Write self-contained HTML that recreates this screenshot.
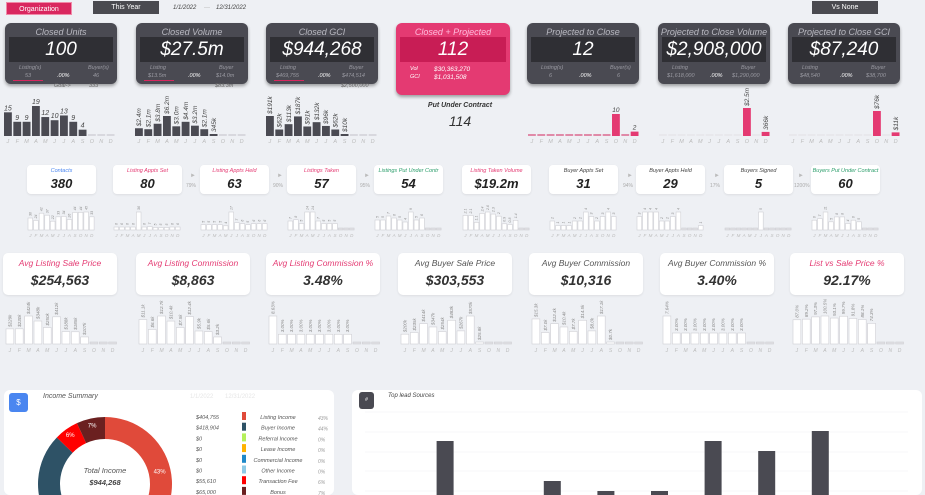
<!DOCTYPE html>
<html style="overflow:hidden;width:925px;height:495px"><head><meta charset="utf-8">
<style>
*{box-sizing:border-box;margin:0;padding:0}
body{width:925px;height:495px;background:#eef0f4;font-family:"Liberation Sans",sans-serif;position:relative;overflow:hidden}
.abs{position:absolute}
.btn{position:absolute;height:13px;font-size:7px;color:#fff;text-align:center;line-height:13px}
.dc{position:absolute;top:23px;width:112px;height:61px;background:#4a4a52;border-radius:6px;box-shadow:0 2px 3px rgba(0,0,0,.35)}
.dc .t{position:absolute;top:4px;width:100%;text-align:center;font-size:9px;font-style:italic;color:#b8b8c0;white-space:nowrap}
.dc .v{position:absolute;left:4px;right:4px;top:14px;height:25px;background:#2f2f34;color:#fff;font-style:italic;font-size:19px;text-align:center;line-height:25px;white-space:nowrap}
.dc .s{position:absolute;font-size:5.5px;font-style:italic;color:#9a9aa2}
.wc{position:absolute;background:#fff;border-radius:4px;box-shadow:0 1px 2px rgba(0,0,0,.08)}
.wc .t{position:absolute;top:3px;width:100%;text-align:center;font-size:5.5px;font-style:italic;white-space:nowrap}
.wc .v{position:absolute;top:11px;width:100%;text-align:center;font-size:13px;font-weight:bold;font-style:italic;color:#222}
.bc{position:absolute;top:253px;width:114px;height:42px;background:#fff;border-radius:5px;box-shadow:0 1px 2px rgba(0,0,0,.08)}
.bc .t{position:absolute;top:5px;width:100%;text-align:center;font-size:8.5px;font-style:italic;white-space:nowrap}
.bc .v{position:absolute;top:19px;width:100%;text-align:center;font-size:14px;font-weight:bold;font-style:italic;color:#333}
.pct{position:absolute;font-size:5px;color:#aaa}
.arr{position:absolute;font-size:6px;color:#bbb}
.panel{position:absolute;background:#fff;border-radius:6px}
</style></head><body>
<div class="btn" style="left:6px;top:2px;width:66px;background:#d9275f;border:1px solid #f08aa8">Organization</div>
<div class="btn" style="left:93px;top:1px;width:66px;background:#4a4a50">This Year</div>
<div class="abs" style="left:173px;top:5px;font-size:6px;font-style:italic;color:#444">1/1/2022</div>
<div class="abs" style="left:204px;top:5px;font-size:6px;color:#bbb">—</div>
<div class="abs" style="left:216px;top:5px;font-size:6px;font-style:italic;color:#444">12/31/2022</div>
<div class="btn" style="left:812px;top:1px;width:66px;background:#4a4a50">Vs None</div>

<div class="dc" style="left:5px"><div class="t">Closed Units</div><div class="v">100</div>
<div class="s" style="left:14px;top:42px">Listing(s)</div><div class="s" style="left:83px;top:42px">Buyer(s)</div><div class="s" style="left:20px;top:50px">53</div><div class="s" style="left:52px;top:50px;color:#fff">.00%</div><div class="s" style="left:88px;top:50px">46</div><div class="abs" style="left:8px;top:57px;width:30px;height:1px;background:#d9275f"></div></div>
<div class="dc" style="left:136px"><div class="t">Closed Volume</div><div class="v">$27.5m</div>
<div class="s" style="left:14px;top:42px">Listing</div><div class="s" style="left:83px;top:42px">Buyer</div><div class="s" style="left:12px;top:50px">$13.5m</div><div class="s" style="left:52px;top:50px;color:#fff">.00%</div><div class="s" style="left:80px;top:50px">$14.0m</div><div class="abs" style="left:8px;top:57px;width:30px;height:1px;background:#d9275f"></div></div>
<div class="dc" style="left:266px"><div class="t">Closed GCI</div><div class="v">$944,268</div>
<div class="s" style="left:14px;top:42px">Listing</div><div class="s" style="left:83px;top:42px">Buyer</div><div class="s" style="left:10px;top:50px">$469,755</div><div class="s" style="left:52px;top:50px;color:#fff">.00%</div><div class="s" style="left:76px;top:50px">$474,514</div><div class="abs" style="left:8px;top:57px;width:30px;height:1px;background:#d9275f"></div></div>
<div class="dc" style="left:396px;width:114px;height:72px;background:#e43a72"><div class="t" style="color:#fbd">Closed + Projected</div><div class="v" style="background:#c81d55">112</div>
<div class="s" style="left:14px;top:43px;color:#fff">Vol</div><div class="s" style="left:38px;top:43px;color:#fff;font-size:6.5px">$30,363,270</div><div class="s" style="left:14px;top:51px;color:#fff">GCI</div><div class="s" style="left:38px;top:51px;color:#fff;font-size:6.5px">$1,031,508</div></div>
<div class="dc" style="left:527px"><div class="t">Projected to Close</div><div class="v">12</div>
<div class="s" style="left:14px;top:42px">Listing(s)</div><div class="s" style="left:83px;top:42px">Buyer(s)</div><div class="s" style="left:22px;top:50px">6</div><div class="s" style="left:52px;top:50px;color:#fff">.00%</div><div class="s" style="left:90px;top:50px">6</div></div>
<div class="dc" style="left:658px"><div class="t">Projected to Close Volume</div><div class="v">$2,908,000</div>
<div class="s" style="left:14px;top:42px">Listing</div><div class="s" style="left:83px;top:42px">Buyer</div><div class="s" style="left:9px;top:50px">$1,618,000</div><div class="s" style="left:52px;top:50px;color:#fff">.00%</div><div class="s" style="left:74px;top:50px">$1,290,000</div></div>
<div class="dc" style="left:788px"><div class="t">Projected to Close GCI</div><div class="v">$87,240</div>
<div class="s" style="left:14px;top:42px">Listing</div><div class="s" style="left:83px;top:42px">Buyer</div><div class="s" style="left:12px;top:50px">$48,540</div><div class="s" style="left:52px;top:50px;color:#fff">.00%</div><div class="s" style="left:78px;top:50px">$38,700</div></div>
<div class="abs" style="left:54px;top:83px;font-size:5.5px;font-style:italic;color:#666">Goal-&gt;</div>
<div class="abs" style="left:89px;top:83px;font-size:5.5px;font-style:italic;color:#666">333</div>
<div class="abs" style="left:215px;top:83px;font-size:5.5px;font-style:italic;color:#666">$83.3m</div>
<div class="abs" style="left:341px;top:83px;font-size:5.5px;font-style:italic;color:#666">$2,500,000</div>
<div class="abs" style="left:400px;top:102px;width:120px;text-align:center;font-size:7px;font-weight:bold;font-style:italic;color:#333">Put Under Contract</div>
<div class="abs" style="left:400px;top:113px;width:120px;text-align:center;font-size:14px;font-style:italic;color:#333">114</div>

<div id="row2"></div>
<div id="row3"></div>

<div class="panel" style="left:4px;top:390px;width:330px;height:105px"></div>
<div class="abs" style="left:9px;top:393px;width:19px;height:19px;background:#4a86f0;border-radius:3px;color:#fff;font-size:8px;text-align:center;line-height:19px">$</div>
<div class="abs" style="left:43px;top:393px;font-size:7px;font-style:italic;color:#555">Income Summary</div>
<div class="abs" style="left:190px;top:394px;font-size:6px;color:#e6e6e6">1/1/2022 &nbsp; &nbsp; &nbsp; 12/31/2022</div>
<div class="panel" style="left:352px;top:390px;width:570px;height:105px"></div>
<div class="abs" style="left:359px;top:392px;width:15px;height:17px;background:#4a4a52;border-radius:3px;color:#fff;font-size:5px;text-align:center;line-height:17px">#</div>
<div class="abs" style="left:388px;top:393px;font-size:6px;font-style:italic;color:#444">Top lead Sources</div>

<svg id="chart" class="abs" style="left:0;top:0;overflow:hidden" width="925" height="495"></svg>

<script>
const months=["J","F","M","A","M","J","J","A","S","O","N","D"];
const closedUnits=[15,9,9,19,12,10,13,9,4,0,0,0];
const closedUnitsLbl=["15","9","9","19","12","10","13","9","4","","",""];
const closedVol=[2.4,2.1,3.8,6.2,3.0,4.4,3.2,2.1,0.345,0,0,0];
const closedVolLbl=["$2.4m","$2.1m","$3.8m","$6.2m","$3.0m","$4.4m","$3.2m","$2.1m","345k","","",""];
const closedGci=[191,62,113,187,91,132,96,62,10,0,0,0];
const closedGciLbl=["$191k","$62k","$113k","$187k","$91k","$132k","$96k","$62k","$10k","","",""];
const projUnits=[0,0,0,0,0,0,0,0,0,10,0,2];
const projUnitsLbl=["","","","","","","","","","10","","2"];
const projVol=[0,0,0,0,0,0,0,0,0,2.5,0,0.366];
const projVolLbl=["","","","","","","","","","$2.5m","","366k"];
const projGci=[0,0,0,0,0,0,0,0,0,76,0,11];
const projGciLbl=["","","","","","","","","","$76k","","$11k"];
const contacts=[30,24,42,37,22,33,34,26,44,44,45,33];
const listApptsSet=[6,6,6,6,36,6,7,5,5,5,6,6];
const listApptsHeld=[5,5,5,5,4,17,7,6,5,6,6,6];
const listingsTaken=[7,8,5,14,14,7,5,5,5,0,0,0];
const listingsPuc=[5,5,7,6,5,4,9,5,6,0,0,0];
const listTakenVol=[2.1,2.1,1.1,2.4,2.6,2.3,2.0,0.9,0.8,1.4,0,0];
const buyerApptsSet=[2,1,1,1,2,2,4,3,2,3,4,3];
const buyerApptsHeld=[3,4,4,4,2,2,3,4,0,0,0,1];
const buyersSigned=[0,0,0,0,0,0,5,0,0,0,0,0];
const buyersPuc=[6,7,11,5,8,8,4,6,5,0,0,0];
const avgListPrice=[229,230,424,348,250,412,188,185,107,0,0,0];
const avgListPriceLbl=["$229k","$230k","$424k","$348k","$250k","$412k","$188k","$185k","$107k","","",""];
const avgListComm=[11.1,6.6,12.7,10.4,7.5,12.4,5.9,5.6,3.2,0,0,0];
const avgListCommLbl=["$11.1k","$6.6k","$12.7k","$10.4k","$7.5k","$12.4k","$5.9k","$5.6k","$3.2k","","",""];
const avgListPct=[8.63,3,3,3,3,3,3,3,3,0,0,0];
const avgListPctLbl=["8.63%","3.00%","3.00%","3.00%","3.00%","3.00%","3.00%","3.00%","3.00%","","",""];
const avgBuyPrice=[200,235,414,347,254,483,267,570,25.8,0,0,0];
const avgBuyPriceLbl=["$200k","$235k","$414k","$347k","$254k","$483k","$267k","$570k","$25.8k","","",""];
const avgBuyComm=[15.3,7.0,12.4,10.4,7.7,14.5,8.0,17.1,0.7,0,0,0];
const avgBuyCommLbl=["$15.3k","$7.0k","$12.4k","$10.4k","$7.7k","$14.5k","$8.0k","$17.1k","$0.7k","","",""];
const avgBuyPct=[7.64,3,3,3,3,3,3,3,3,0,0,0];
const avgBuyPctLbl=["7.64%","3.00%","3.00%","3.00%","3.00%","3.00%","3.00%","3.00%","3.00%","","",""];
const listVsSale=[87.0,89.2,97.3,100.5,93.1,99.7,91.8,88.1,74.3,0,0,0];
const listVsSaleLbl=["87.0%","89.2%","97.3%","100.5%","93.1%","99.7%","91.8%","88.1%","74.3%","","",""];
const incomeNames=["Listing Income","Buyer Income","Referral Income","Lease Income","Commercial Income","Other Income","Transaction Fee","Bonus"];
const incomeValues=[404755,418904,0,0,0,0,55610,65000];
const incomeLabels=["$404,755","$418,904","$0","$0","$0","$0","$55,610","$65,000"];
const incomePct=["43%","44%","0%","0%","0%","0%","6%","7%"];
const incomeColors=["#e04a3a","#2e5266","#b5f05a","#ffb300","#1e88c8","#8ecae6","#ff0000","#6b2020"];
const leadSources=["Source 1","Source 2","Source 3","Source 4","Source 5","Source 6","Source 7","Source 8","Source 9"];
const leadCounts=[8,22,8,14,12,12,22,20,24];

const NS="http://www.w3.org/2000/svg";
const svg=document.getElementById("chart");
function el(tag,attrs,parent){const e=document.createElementNS(NS,tag);for(const k in attrs)e.setAttribute(k,attrs[k]);(parent||svg).appendChild(e);return e;}

function mini(name,x0,w,base,maxH,vals,lbls,opt){
  const g=el("g",{});
  
  
  const max=Math.max(...vals)||1;
  const step=w/12, bw=step*0.84;
  vals.forEach((v,i)=>{
    const h=v>0?Math.max(2,v/max*maxH):opt.stub;
    const bx=x0+i*step;
    const r=el("rect",{x:bx,y:base-h,width:bw,height:h,fill:v>0?opt.fill:opt.stubFill,stroke:opt.stroke||"none","stroke-width":0.6},g);
    
    
    if(lbls&&lbls[i]){
      if(opt.rot){
        el("text",{x:0,y:0,transform:`translate(${bx+bw/2+opt.fs*0.35},${base-h-2}) rotate(-90)`,"font-size":opt.fs,"font-style":"italic",fill:opt.lc,"font-family":"Liberation Sans"},g).textContent=lbls[i];
      }else{
        el("text",{x:bx+bw/2,y:base-h-2,"text-anchor":"middle","font-size":opt.fs,"font-style":"italic",fill:opt.lc,"font-family":"Liberation Sans"},g).textContent=lbls[i];
      }
    }
    el("text",{x:bx+bw/2,y:base+opt.ly,"text-anchor":"middle","font-size":opt.mfs,"font-style":"italic",fill:"#bbb","font-family":"Liberation Sans"},g).textContent=months[i];
  });
}
const dark={fill:"#4a4a52",stub:2,stubFill:"#d8d8de",fs:7,lc:"#444",ly:7,mfs:5.5};
mini("closed-units-chart",4,112,136,30,closedUnits,closedUnitsLbl,dark);
mini("closed-volume-chart",135,112,136,20,closedVol,closedVolLbl,Object.assign({},dark,{rot:true,fs:6.5}));
mini("closed-gci-chart",266,112,136,20,closedGci,closedGciLbl,Object.assign({},dark,{rot:true,fs:6.5}));
const pink={fill:"#e43a72",stub:2,stubFill:"#e08aa8",fs:6.5,lc:"#444",ly:7,mfs:5.5};
mini("projected-units-chart",528,112,136,22,projUnits,projUnitsLbl,pink);
mini("projected-volume-chart",659,112,136,28,projVol,projVolLbl,Object.assign({},pink,{rot:true,stubFill:"#e8e8ec"}));
mini("projected-gci-chart",789,112,136,25,projGci,projGciLbl,Object.assign({},pink,{rot:true,stubFill:"#e8e8ec"}));
const r2=[["contacts-card","Contacts","380","#4a86f0",27],["listing-appts-set-card","Listing Appts Set","80","#e43a72",113],["listing-appts-held-card","Listing Appts Held","63","#e43a72",200],["listings-taken-card","Listings Taken","57","#e43a72",287],["listings-puc-card","Listings Put Under Contr","54","#2a9d6a",374],["listing-taken-volume-card","Listing Taken Volume","$19.2m","#e43a72",462],["buyer-appts-set-card","Buyer Appts Set","31","#444",549],["buyer-appts-held-card","Buyer Appts Held","29","#444",636],["buyers-signed-card","Buyers Signed","5","#444",724],["buyers-puc-card","Buyers Put Under Contract","60","#2a9d6a",811]];
const row2=document.getElementById("row2");
r2.forEach(c=>{const d=document.createElement("div");d.className="wc";d.style.cssText=`left:${c[4]}px;top:165px;width:69px;height:29px`;


d.innerHTML=`<div class="t" style="color:${c[3]}">${c[1]}</div><div class="v">${c[2]}</div>`;row2.appendChild(d);});
const pcts=[["79%",186],["90%",273],["95%",360],["94%",623],["17%",710],["1200%",794]];
pcts.forEach(p=>{const a=document.createElement("div");a.className="arr";a.style.cssText=`left:${p[1]+4}px;top:173px`;a.textContent="►";


row2.appendChild(a);
const t=document.createElement("div");t.className="pct";t.style.cssText=`left:${p[1]}px;top:183px`;t.textContent=p[0];


row2.appendChild(t);});
const light={fill:"#fff",stroke:"#cfcfd4",stub:2,stubFill:"#e0e0e4",fs:3.5,lc:"#888",ly:7,mfs:4.5,rot:true};
const r2data=[contacts,listApptsSet,listApptsHeld,listingsTaken,listingsPuc,listTakenVol,buyerApptsSet,buyerApptsHeld,buyersSigned,buyersPuc];
r2data.forEach((d,i)=>mini(r2[i][0].replace("-card","-chart"),r2[i][4]+1,67,230,18,d,d.map(v=>v?String(v):""),light));
const r3=[["avg-listing-sale-price-card","Avg Listing Sale Price","$254,563","#e43a72",3],["avg-listing-commission-card","Avg Listing Commission","$8,863","#e43a72",136],["avg-listing-commission-pct-card","Avg Listing Commission %","3.48%","#e43a72",266],["avg-buyer-sale-price-card","Avg Buyer Sale Price","$303,553","#555",398],["avg-buyer-commission-card","Avg Buyer Commission","$10,316","#555",529],["avg-buyer-commission-pct-card","Avg Buyer Commission %","3.40%","#555",660],["list-vs-sale-price-card","List vs Sale Price %","92.17%","#e43a72",790]];
const row3=document.getElementById("row3");
r3.forEach(c=>{const d=document.createElement("div");d.className="bc";d.style.left=c[4]+"px";


d.innerHTML=`<div class="t" style="color:${c[3]}">${c[1]}</div><div class="v">${c[2]}</div>`;row3.appendChild(d);});
const r3data=[[avgListPrice,avgListPriceLbl],[avgListComm,avgListCommLbl],[avgListPct,avgListPctLbl],[avgBuyPrice,avgBuyPriceLbl],[avgBuyComm,avgBuyCommLbl],[avgBuyPct,avgBuyPctLbl],[listVsSale,listVsSaleLbl]];
const light3=Object.assign({},light,{fs:4.5,mfs:5,ly:8});
r3data.forEach((d,i)=>mini(r3[i][0].replace("-card","-chart"),r3[i][4]+3,112,344,28,d[0],d[1],light3));
const cx=105,cy=484,R=67,r=45;
const tot=incomeValues.reduce((a,b)=>a+b,0);
let ang=0;
incomeValues.forEach((v,i)=>{
  if(!v)return;
  const a0=ang, a1=ang+v/tot*2*Math.PI; ang=a1;
  const p=(a,rad)=>[cx+rad*Math.sin(a),cy-rad*Math.cos(a)];
  const [x0,y0]=p(a0,R),[x1,y1]=p(a1,R),[x2,y2]=p(a1,r),[x3,y3]=p(a0,r);
  const lg=(a1-a0)>Math.PI?1:0;
  const s=el("path",{d:`M${x0},${y0}A${R},${R} 0 ${lg} 1 ${x1},${y1}L${x2},${y2}A${r},${r} 0 ${lg} 0 ${x3},${y3}Z`,fill:incomeColors[i]});
  
  
  const m=(a0+a1)/2,[lx,ly]=p(m,(R+r)/2+(v/tot<0.1?4:0));
  el("text",{x:lx,y:ly+2,"text-anchor":"middle","font-size":6,fill:"#fff","font-family":"Liberation Sans"}).textContent=incomePct[i];
});
el("text",{x:cx,y:473,"text-anchor":"middle","font-size":7.5,"font-style":"italic",fill:"#555","font-family":"Liberation Sans"}).textContent="Total Income";
el("text",{x:cx,y:485,"text-anchor":"middle","font-size":7.5,"font-style":"italic","font-weight":"bold",fill:"#444","font-family":"Liberation Sans"}).textContent="$944,268";
incomeNames.forEach((n,i)=>{
  const y=419+i*10.7;
  const g=el("g",{});
  
  
  el("text",{x:196,y:y,"font-size":5.5,"font-style":"italic",fill:"#555","font-family":"Liberation Sans"},g).textContent=incomeLabels[i];
  el("rect",{x:242,y:y-7,width:4,height:8,fill:incomeColors[i]},g);
  el("text",{x:278,y:y,"text-anchor":"middle","font-size":5.5,"font-style":"italic",fill:"#555","font-family":"Liberation Sans"},g).textContent=n;
  el("text",{x:318,y:y+1,"font-size":5,"font-style":"italic",fill:"#999","font-family":"Liberation Sans"},g).textContent=incomePct[i];
});
[412,432,452,471,491].forEach(y=>{const l=el("line",{x1:365,x2:908,y1:y,y2:y,stroke:"#f0f0f2","stroke-width":0.6});

});
const lb=551,lu=5;
leadCounts.forEach((v,i)=>{
  const x=383+i*53.6;
  const h=v*lu, top=lb-h;
  const b=el("rect",{x:x,y:top,width:17,height:Math.max(0,495-top),fill:"#4a4a52"});
  
  
});
</script>
</body></html>
